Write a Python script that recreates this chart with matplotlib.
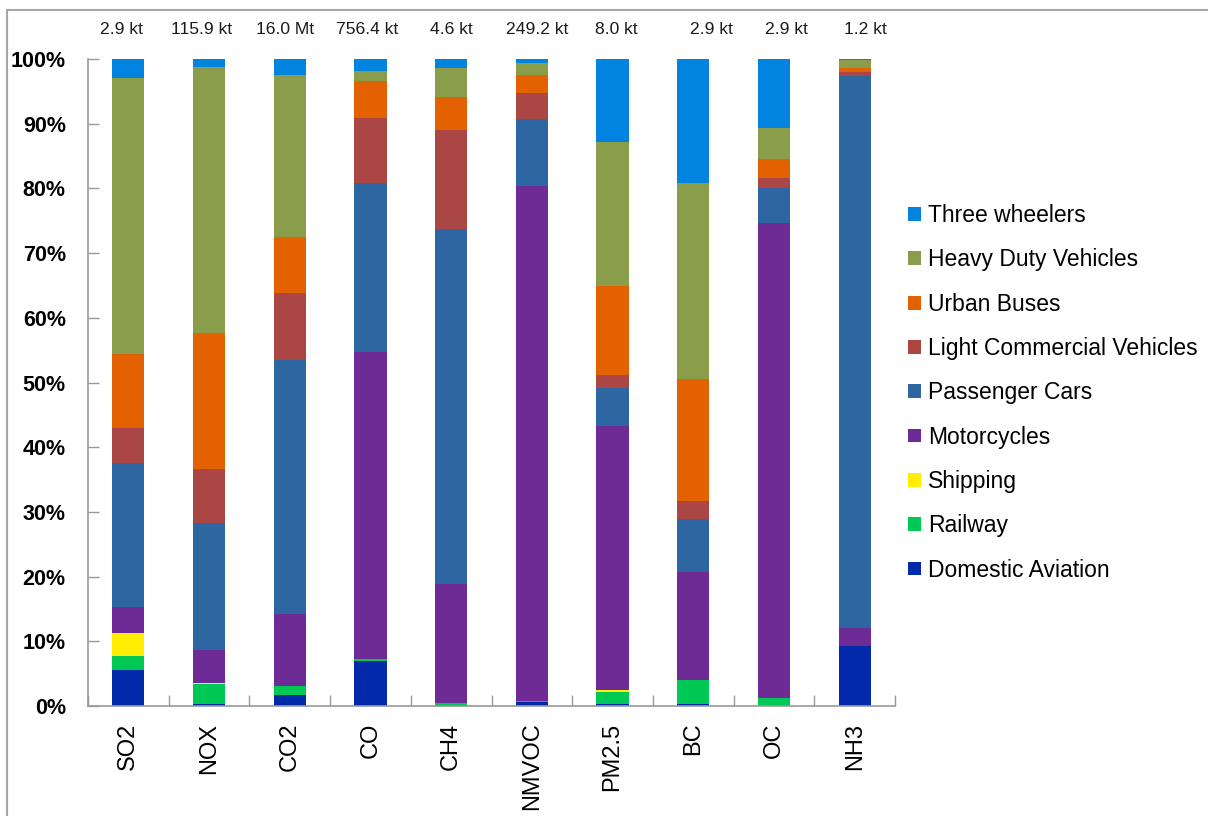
import numpy as np
import matplotlib
matplotlib.use("Agg")
import matplotlib.pyplot as plt
from matplotlib.patches import Rectangle
from matplotlib.ticker import FixedLocator

plt.rcParams['font.family'] = ['Liberation Sans', 'DejaVu Sans']

pollutants = ["SO2", "NOX", "CO2", "CO", "CH4", "NMVOC", "PM2.5", "BC", "OC", "NH3"]
totals = ["2.9 kt", "115.9 kt", "16.0 Mt", "756.4 kt", "4.6 kt",
          "249.2 kt", "8.0 kt", "2.9 kt", "2.9 kt", "1.2 kt"]

# share of each sector (%), bottom to top
domestic_aviation = [5.5, 0.3, 1.7, 7.0, 0.1, 0.6, 0.3, 0.3, 0.0, 9.3]
railway           = [2.2, 3.1, 1.4, 0.2, 0.3, 0.2, 1.9, 3.7, 1.3, 0.0]
shipping          = [3.6, 0.2, 0.0, 0.0, 0.1, 0.0, 0.2, 0.0, 0.0, 0.0]
motorcycles       = [4.0, 5.0, 11.1, 47.5, 18.4, 79.6, 40.8, 16.7, 73.4, 2.8]
passenger_cars    = [22.3, 19.7, 39.3, 26.2, 54.9, 10.4, 5.9, 8.2, 5.3, 85.2]
light_commercial  = [5.3, 8.4, 10.4, 10.0, 15.3, 3.9, 2.0, 2.8, 1.6, 0.7]
urban_buses       = [11.5, 21.0, 8.6, 5.7, 5.0, 2.9, 13.8, 18.8, 3.0, 0.6]
heavy_duty        = [42.6, 41.0, 25.1, 1.6, 4.5, 1.8, 22.2, 30.4, 4.8, 1.3]
three_wheelers    = [3.0, 1.3, 2.4, 1.8, 1.4, 0.6, 12.9, 19.1, 10.6, 0.1]

series = [
    ("Domestic Aviation", domestic_aviation, "#0129AA"),
    ("Railway", railway, "#00C855"),
    ("Shipping", shipping, "#FFEE00"),
    ("Motorcycles", motorcycles, "#6F2B95"),
    ("Passenger Cars", passenger_cars, "#2E66A1"),
    ("Light Commercial Vehicles", light_commercial, "#AA4643"),
    ("Urban Buses", urban_buses, "#E46100"),
    ("Heavy Duty Vehicles", heavy_duty, "#899D4A"),
    ("Three wheelers", three_wheelers, "#0084E0"),
]

# horizontal nudge of the total labels (in category units), as placed in the original
label_shift = [-0.08, -0.09, -0.06, -0.04, 0.0, 0.06, 0.05, 0.23, 0.15, 0.13]

fig = plt.figure(figsize=(12.08, 8.16), dpi=100)
ax = fig.add_axes([88/1208, 1 - 706/816, (895-88)/1208, (706-59)/816])

x = np.arange(len(pollutants))
total = np.sum([s[1] for s in series], axis=0)
bottom = np.zeros(len(pollutants))
for name, vals, col in series:
    pct = np.array(vals) / total * 100
    ax.bar(x, pct, width=0.4, bottom=bottom, color=col, label=name, linewidth=0)
    bottom += pct

ax.set_xlim(-0.5, len(pollutants) - 0.5)
ax.set_ylim(0, 100)

ax.set_yticks(np.arange(0, 101, 10))
ax.set_yticklabels([f"{v}%" for v in range(0, 101, 10)], fontsize=15.5, fontweight="bold")
ax.set_xticks(x)
ax.set_xticklabels(pollutants, rotation=90, fontsize=17)
ax.xaxis.set_minor_locator(FixedLocator(np.arange(-0.5, len(pollutants), 1.0)))

ax.tick_params(axis="y", direction="in", length=8, width=1, color="#999999", pad=16)
ax.tick_params(axis="x", which="major", length=0, pad=12)
ax.tick_params(axis="x", which="minor", direction="in", length=8, width=1, color="#999999")

for side in ["top", "right"]:
    ax.spines[side].set_visible(False)
for side in ["left", "bottom"]:
    ax.spines[side].set_color("#999999")
    ax.spines[side].set_linewidth(1.2)

for i, lab in enumerate(totals):
    ax.text(x[i] + label_shift[i], 103.4, lab, ha="center", va="bottom",
            fontsize=12.6, color="#1a1a1a")

handles, labels = ax.get_legend_handles_labels()
leg = ax.legend(handles[::-1], labels[::-1], loc="center left",
                bbox_to_anchor=(1.005, 0.484), frameon=False, fontsize=16.5,
                handlelength=0.55, handleheight=0.55, handletextpad=0.3,
                labelspacing=0.93, borderaxespad=0)

# grey chart-area frame
fig.add_artist(Rectangle((7/1208, -0.5), 2.0, 1.5 - 10/816, transform=fig.transFigure,
                         fill=False, edgecolor="#A6A6A6", linewidth=1.5))

fig.savefig("out.png", dpi=100)
